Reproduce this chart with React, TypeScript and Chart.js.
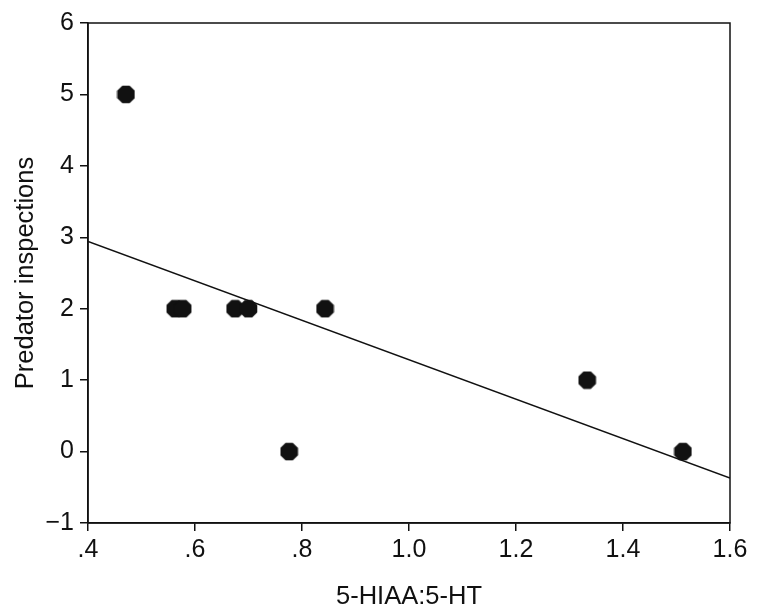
import React, { useEffect, useRef } from "react";
import { Chart, registerables } from "chart.js";

Chart.register(...registerables);

const ratioValues = [0.471, 0.563, 0.577, 0.675, 0.700, 0.843, 0.776, 1.333, 1.512];
const inspectionValues = [5, 2, 2, 2, 2, 2, 0, 1, 0];
const fitX = [0.4, 1.6];
const fitY = [2.94, -0.37];
const xTicks = [0.4, 0.6, 0.8, 1.0, 1.2, 1.4, 1.6];
const xTickLabels = [".4", ".6", ".8", "1.0", "1.2", "1.4", "1.6"];
const yTicks = [-1, 0, 1, 2, 3, 4, 5, 6];
const yTickLabels = ["\u22121", "0", "1", "2", "3", "4", "5", "6"];

function makeOctagon(d: number, color: string) {
  const c = document.createElement("canvas");
  c.width = d;
  c.height = d;
  const ctx = c.getContext("2d")!;
  const r = d / 2;
  ctx.fillStyle = color;
  ctx.beginPath();
  for (let i = 0; i < 8; i++) {
    const a = Math.PI / 8 + (i * Math.PI) / 4;
    const x = r + r * Math.cos(a);
    const y = r + r * Math.sin(a);
    if (i === 0) ctx.moveTo(x, y);
    else ctx.lineTo(x, y);
  }
  ctx.closePath();
  ctx.fill();
  return c;
}

const frame = {
  id: "frame",
  afterDraw(chart: any) {
    const { ctx, chartArea } = chart;
    ctx.save();
    ctx.strokeStyle = "#111";
    ctx.lineWidth = 1.5;
    ctx.strokeRect(chartArea.left, chartArea.top, chartArea.right - chartArea.left, chartArea.bottom - chartArea.top);
    ctx.restore();
  },
};

export default function App() {
  const ref = useRef<HTMLCanvasElement>(null);
  useEffect(() => {
    const oct = makeOctagon(19, "#111");
    const tickFont = { family: "'Liberation Sans', Arial, sans-serif", size: 25 };
    const titleFont = { family: "'Liberation Sans', Arial, sans-serif", size: 25.5 };
    const chart = new Chart(ref.current!, {
      type: "scatter",
      data: {
        datasets: [
          {
            data: fitX.map((x, i) => ({ x, y: fitY[i] })),
            showLine: true,
            borderColor: "#111",
            borderWidth: 1.5,
            pointRadius: 0,
            order: 2,
          },
          {
            data: ratioValues.map((x, i) => ({ x, y: inspectionValues[i] })),
            pointStyle: oct as any,
            pointRadius: 9,
            backgroundColor: "#111",
            order: 1,
          },
        ],
      },
      options: {
        animation: false,
        responsive: false,
        layout: { padding: { top: 23, right: 32, left: 0, bottom: 0 } },
        plugins: { legend: { display: false }, tooltip: { enabled: false } },
        scales: {
          x: {
            type: "linear",
            min: 0.4,
            max: 1.6,
            afterBuildTicks: (s: any) => {
              s.ticks = xTicks.map((v) => ({ value: v }));
            },
            afterFit: (s: any) => {
              s.height = 93;
            },
            ticks: {
              color: "#111",
              font: tickFont,
              padding: 4,
              maxRotation: 0,
              callback: (v: any) => {
                const i = xTicks.findIndex((t) => Math.abs(t - v) < 1e-6);
                return i >= 0 ? xTickLabels[i] : "";
              },
            },
            grid: { drawOnChartArea: false, color: "#111", tickLength: 8, lineWidth: 1.5 },
            border: { color: "#111", width: 1.5 },
            title: { display: true, text: "5-HIAA:5-HT", color: "#111", font: titleFont, padding: { top: 10, bottom: 4 } },
          },
          y: {
            type: "linear",
            min: -1,
            max: 6,
            afterBuildTicks: (s: any) => {
              s.ticks = yTicks.map((v) => ({ value: v }));
            },
            afterFit: (s: any) => {
              s.width = 88;
            },
            ticks: {
              color: "#111",
              font: tickFont,
              padding: 6,
              callback: (v: any) => {
                const i = yTicks.findIndex((t) => Math.abs(t - v) < 1e-6);
                return i >= 0 ? yTickLabels[i] : "";
              },
            },
            grid: { drawOnChartArea: false, color: "#111", tickLength: 8, lineWidth: 1.5 },
            border: { color: "#111", width: 1.5 },
            title: { display: true, text: "Predator inspections", color: "#111", font: titleFont, padding: { top: 11, bottom: 4 } },
          },
        },
      },
      plugins: [frame],
    } as any);
    return () => chart.destroy();
  }, []);
  return (
    <div style={{ position: "absolute", left: 0, top: 0, width: 762, height: 616, background: "#fff" }}>
      <canvas ref={ref} width={762} height={616} style={{ width: 762, height: 616 }} />
    </div>
  );
}
